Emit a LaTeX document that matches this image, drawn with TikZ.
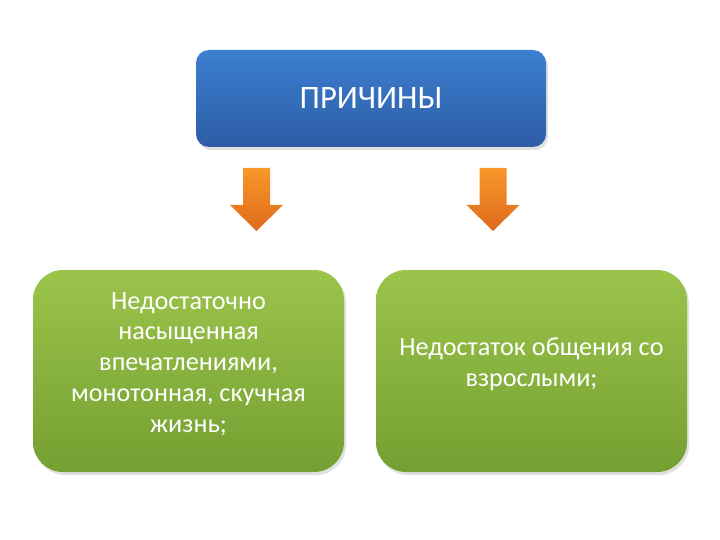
\documentclass[tikz,border=0pt]{standalone}
\usepackage{fontspec}
\setmainfont{Carlito}
\usetikzlibrary{shadows}
\definecolor{bluetop}{HTML}{3D7FD0}
\definecolor{bluebot}{HTML}{2C5DA6}
\definecolor{greentop}{HTML}{9CC44B}
\definecolor{greenbot}{HTML}{74A032}
\definecolor{orangetop}{HTML}{F8972A}
\definecolor{orangebot}{HTML}{DE6A1C}
\newcommand{\boxtext}[1]{\begin{tabular}{@{}c@{}}#1\\[13pt]\end{tabular}}
\tikzset{
  topbox/.style={rectangle, rounded corners=13pt, minimum width=350pt, minimum height=97pt,
    top color=bluetop, bottom color=bluebot, draw=none, text=white,
    drop shadow={shadow xshift=2pt, shadow yshift=-3pt, opacity=0.2, fill=black!60},
    font=\fontsize{32.7}{36}\selectfont},
  greenbox/.style={rectangle, rounded corners=30pt, minimum width=311pt, minimum height=202pt,
    top color=greentop, bottom color=greenbot, draw=none, text=white, align=center,
    drop shadow={shadow xshift=2pt, shadow yshift=-3pt, opacity=0.2, fill=black!60},
    font=\fontsize{26.2}{30.8}\selectfont},
  blockarrow/.style={top color=orangetop, bottom color=orangebot, draw=none}
}
\begin{document}
\begin{tikzpicture}[x=1pt,y=-1pt]
\useasboundingbox (0,0) rectangle (720,540);
\node[topbox] (top) at (371,98.5) {ПРИЧИНЫ};
\node[greenbox] (left) at (188.5,371) {\boxtext{Недостаточно\\насыщенная\\впечатлениями,\\монотонная, скучная\\жизнь;}};
\node[greenbox] (right) at (531.5,371) {\boxtext{Недостаток общения со\\взрослыми;}};
\coordinate (la) at (256.5,168);
\coordinate (ra) at (493,168);
\shade[blockarrow] (la) ++(-13.5,0) -- ++(27,0) -- ++(0,37) -- ++(13,0) -- ++(-26.5,26) -- ++(-26.5,-26) -- ++(13,0) -- cycle;
\shade[blockarrow] (ra) ++(-13.5,0) -- ++(27,0) -- ++(0,37) -- ++(13,0) -- ++(-26.5,26) -- ++(-26.5,-26) -- ++(13,0) -- cycle;
\end{tikzpicture}
\end{document}
